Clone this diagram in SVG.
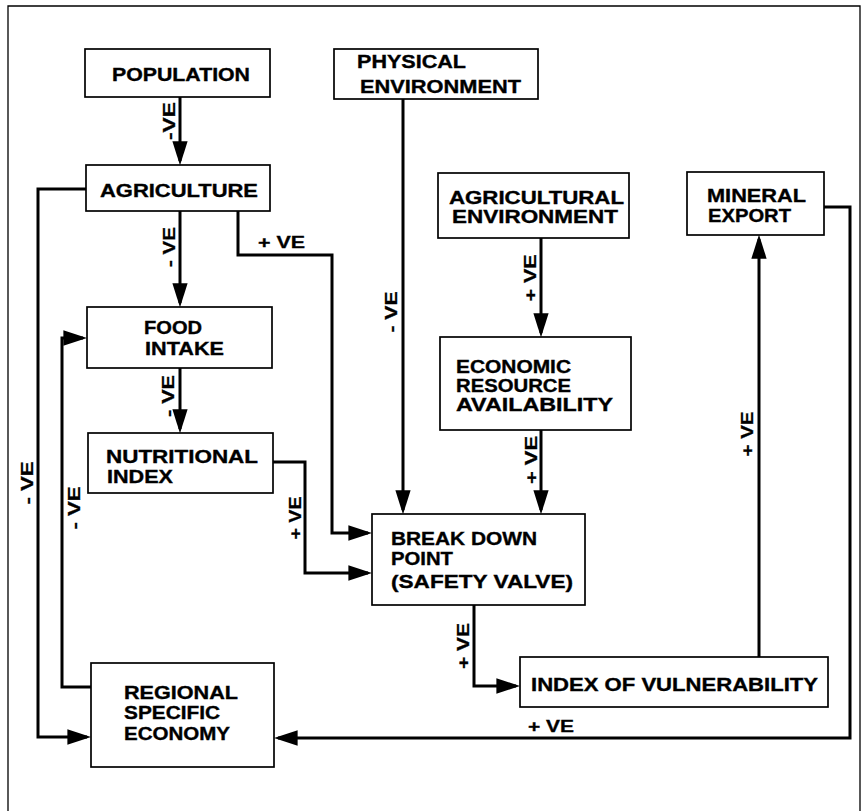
<svg xmlns="http://www.w3.org/2000/svg" width="862" height="811" viewBox="0 0 862 811">
<defs>
<style>
.frame{fill:none;stroke:#000;stroke-width:1.3}
.box rect{fill:#fff;stroke:#000;stroke-width:1.7}
.box text{font-family:"Liberation Sans",Arial,Helvetica,sans-serif;font-weight:bold;font-size:18px;fill:#000;stroke:#000;stroke-width:0.35}
.conn path{fill:none;stroke:#000;stroke-width:3;stroke-linejoin:miter;marker-end:url(#ah)}
.lbl{font-family:"Liberation Sans",Arial,Helvetica,sans-serif;font-weight:bold;font-size:16px;fill:#000;stroke:#000;stroke-width:0.3}
.rl{text-anchor:middle}
</style>
<marker id="ah" markerUnits="userSpaceOnUse" markerWidth="24" markerHeight="16" viewBox="0 0 22 14" refX="18" refY="7" orient="auto">
<path d="M0,0 L22,7 L0,14 z" fill="#000"/>
</marker>
</defs>
<rect width="862" height="811" fill="#fff"/>
<path class="frame" d="M8,815 V6 H860 V815"/>

<g id="connectors" class="conn">
<path d="M180,97 V161"/>
<path d="M180,211 V303"/>
<path d="M180,368 V429"/>
<path d="M238,211 V255 H332 V533 H368"/>
<path d="M273,462 H305 V573 H368"/>
<path d="M403,99 V510"/>
<path d="M541,238 V333"/>
<path d="M541,430 V510"/>
<path d="M474,605 V686 H516"/>
<path d="M759,657 V239"/>
<path d="M824,207 H850 V738 H278"/>
<path d="M86,189 H38 V737 H87"/>
<path d="M91,687 H62 V338 H83"/>
</g>

<g id="labels">
<text class="lbl rl" transform="translate(175,121) rotate(-90)" textLength="38" lengthAdjust="spacingAndGlyphs">-VE</text>
<text class="lbl rl" transform="translate(175,247) rotate(-90)" textLength="40" lengthAdjust="spacingAndGlyphs">- VE</text>
<text class="lbl rl" transform="translate(174,396) rotate(-90)" textLength="42" lengthAdjust="spacingAndGlyphs">- VE</text>
<text class="lbl rl" transform="translate(33,483) rotate(-90)" textLength="43" lengthAdjust="spacingAndGlyphs">- VE</text>
<text class="lbl rl" transform="translate(80,508) rotate(-90)" textLength="43" lengthAdjust="spacingAndGlyphs">- VE</text>
<text class="lbl rl" transform="translate(301,518) rotate(-90)" textLength="43" lengthAdjust="spacingAndGlyphs">+ VE</text>
<text class="lbl rl" transform="translate(397,312) rotate(-90)" textLength="41" lengthAdjust="spacingAndGlyphs">- VE</text>
<text class="lbl rl" transform="translate(536,278) rotate(-90)" textLength="47" lengthAdjust="spacingAndGlyphs">+ VE</text>
<text class="lbl rl" transform="translate(537,460) rotate(-90)" textLength="48" lengthAdjust="spacingAndGlyphs">+ VE</text>
<text class="lbl rl" transform="translate(469,646) rotate(-90)" textLength="46" lengthAdjust="spacingAndGlyphs">+ VE</text>
<text class="lbl rl" transform="translate(753,434) rotate(-90)" textLength="45" lengthAdjust="spacingAndGlyphs">+ VE</text>
<text class="lbl" x="258" y="248" textLength="47" lengthAdjust="spacingAndGlyphs">+ VE</text>
<text class="lbl" x="528" y="732" textLength="46" lengthAdjust="spacingAndGlyphs">+ VE</text>
</g>

<g id="population" class="box">
<rect x="85" y="49" width="185" height="48"/>
<text x="112" y="81" textLength="138" lengthAdjust="spacingAndGlyphs">POPULATION</text>
</g>
<g id="agriculture" class="box">
<rect x="86" y="165" width="184" height="46"/>
<text x="100" y="197" textLength="158" lengthAdjust="spacingAndGlyphs">AGRICULTURE</text>
</g>
<g id="physical-environment" class="box">
<rect x="334" y="49" width="204" height="50"/>
<text x="357" y="68" textLength="109" lengthAdjust="spacingAndGlyphs">PHYSICAL</text>
<text x="360" y="93" textLength="161" lengthAdjust="spacingAndGlyphs">ENVIRONMENT</text>
</g>
<g id="agricultural-environment" class="box">
<rect x="438" y="173" width="191" height="65"/>
<text x="449" y="204" textLength="175" lengthAdjust="spacingAndGlyphs">AGRICULTURAL</text>
<text x="452" y="223" textLength="166" lengthAdjust="spacingAndGlyphs">ENVIRONMENT</text>
</g>
<g id="mineral-export" class="box">
<rect x="687" y="172" width="137" height="63"/>
<text x="707" y="202" textLength="99" lengthAdjust="spacingAndGlyphs">MINERAL</text>
<text x="708" y="222" textLength="83" lengthAdjust="spacingAndGlyphs">EXPORT</text>
</g>
<g id="food-intake" class="box">
<rect x="87" y="307" width="185" height="61"/>
<text x="144" y="334" textLength="58" lengthAdjust="spacingAndGlyphs">FOOD</text>
<text x="145" y="355" textLength="79" lengthAdjust="spacingAndGlyphs">INTAKE</text>
</g>
<g id="nutritional-index" class="box">
<rect x="88" y="433" width="185" height="60"/>
<text x="106" y="463" textLength="152" lengthAdjust="spacingAndGlyphs">NUTRITIONAL</text>
<text x="107" y="483" textLength="66" lengthAdjust="spacingAndGlyphs">INDEX</text>
</g>
<g id="economic-resource-availability" class="box">
<rect x="440" y="337" width="191" height="93"/>
<text x="456" y="373" textLength="115" lengthAdjust="spacingAndGlyphs">ECONOMIC</text>
<text x="456" y="392" textLength="115" lengthAdjust="spacingAndGlyphs">RESOURCE</text>
<text x="456" y="411" textLength="157" lengthAdjust="spacingAndGlyphs">AVAILABILITY</text>
</g>
<g id="break-down-point" class="box">
<rect x="372" y="514" width="213" height="91"/>
<text x="391" y="545" textLength="146" lengthAdjust="spacingAndGlyphs">BREAK DOWN</text>
<text x="391" y="565" textLength="62" lengthAdjust="spacingAndGlyphs">POINT</text>
<text x="391" y="588" textLength="182" lengthAdjust="spacingAndGlyphs">(SAFETY VALVE)</text>
</g>
<g id="index-of-vulnerability" class="box">
<rect x="520" y="657" width="308" height="50"/>
<text x="531" y="691" textLength="287" lengthAdjust="spacingAndGlyphs">INDEX OF VULNERABILITY</text>
</g>
<g id="regional-specific-economy" class="box">
<rect x="91" y="663" width="183" height="104"/>
<text x="124" y="699" textLength="114" lengthAdjust="spacingAndGlyphs">REGIONAL</text>
<text x="124" y="719" textLength="96" lengthAdjust="spacingAndGlyphs">SPECIFIC</text>
<text x="124" y="740" textLength="106" lengthAdjust="spacingAndGlyphs">ECONOMY</text>
</g>
</svg>
